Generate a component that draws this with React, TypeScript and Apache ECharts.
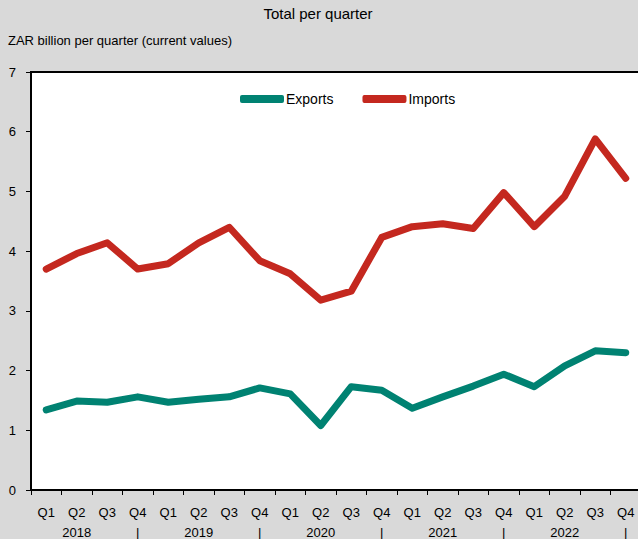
import React, { useEffect, useRef } from "react";
import * as echarts from "echarts";

const years = ["2018", "2019", "2020", "2021", "2022"];
const quarters = ["Q1", "Q2", "Q3", "Q4"];
const exportsValues = [
  1.34, 1.49, 1.47, 1.56, 1.47, 1.52, 1.56, 1.71, 1.61, 1.08,
  1.73, 1.67, 1.37, 1.56, 1.74, 1.94, 1.73, 2.08, 2.33, 2.30,
];
const importsValues = [
  3.70, 3.96, 4.14, 3.70, 3.79, 4.14, 4.40, 3.84, 3.62, 3.18,
  3.33, 4.23, 4.41, 4.46, 4.38, 4.98, 4.41, 4.92, 5.88, 5.22,
];
const yTicks = [0, 1, 2, 3, 4, 5, 6, 7];

const categories: string[] = [];
years.forEach((y) => quarters.forEach((q) => categories.push(q + "|" + y)));

const FONT = "'Liberation Sans', Arial, sans-serif";

export default function App() {
  const ref = useRef<HTMLDivElement>(null);
  useEffect(() => {
    if (!ref.current) return;
    const chart = echarts.init(ref.current, null, { renderer: "svg" });
    chart.setOption({
      animation: false,
      backgroundColor: "#d9d9d9",
      textStyle: { fontFamily: FONT },
      title: [
        {
          text: "Total per quarter",
          left: 313,
          textAlign: "center",
          top: 1,
          textStyle: { fontSize: 15, fontWeight: "normal", color: "#000", fontFamily: FONT },
        },
        {
          text: "ZAR billion per quarter (current values)",
          left: 3,
          top: 29,
          textStyle: { fontSize: 13, fontWeight: "normal", color: "#000", fontFamily: FONT },
        },
      ],
      legend: {
        top: 87,
        left: 235,
        itemWidth: 44,
        itemHeight: 8,
        itemGap: 29,
        icon: "roundRect",
        textStyle: { fontSize: 14, color: "#000", padding: [0, 0, 0, -3], fontFamily: FONT },
        data: ["Exports", "Imports"],
      },
      grid: {
        left: 31,
        top: 72,
        width: 610,
        height: 418,
        containLabel: false,
        outerBoundsMode: "none",
        show: true,
        backgroundColor: "#ffffff",
        borderColor: "#000",
        borderWidth: 2,
      },
      xAxis: {
        type: "category",
        data: categories,
        boundaryGap: true,
        axisLine: { show: true, lineStyle: { color: "#000", width: 2 } },
        axisTick: { show: true, interval: 0, length: 5, lineStyle: { color: "#000", width: 1 } },
        axisLabel: {
          interval: 0,
          margin: 12,
          fontSize: 13,
          lineHeight: 20,
          color: "#000",
          fontFamily: FONT,
          formatter: (v: string) => {
            const [q, y] = v.split("|");
            const second = q === "Q2" ? y : q === "Q4" ? "|" : " ";
            return q + "\n" + second;
          },
        },
        splitLine: { show: false },
      },
      yAxis: {
        type: "value",
        min: yTicks[0],
        max: yTicks[yTicks.length - 1],
        interval: 1,
        axisLine: { show: true, lineStyle: { color: "#000", width: 2 } },
        axisTick: { show: true, inside: false, length: 5, lineStyle: { color: "#000", width: 1 } },
        axisLabel: { fontSize: 13, color: "#000", margin: 15, fontFamily: FONT },
        splitLine: { show: false },
      },
      series: [
        {
          name: "Exports",
          type: "line",
          data: exportsValues,
          symbol: "none",
          itemStyle: { color: "#008272" },
          lineStyle: { color: "#008272", width: 7, cap: "round", join: "round" },
        },
        {
          name: "Imports",
          type: "line",
          data: importsValues,
          symbol: "none",
          itemStyle: { color: "#c4281f" },
          lineStyle: { color: "#c4281f", width: 7, cap: "round", join: "round" },
        },
      ],
    });
    return () => chart.dispose();
  }, []);
  return <div ref={ref} style={{ width: 638, height: 539, position: "absolute", left: 0, top: 0 }} />;
}
